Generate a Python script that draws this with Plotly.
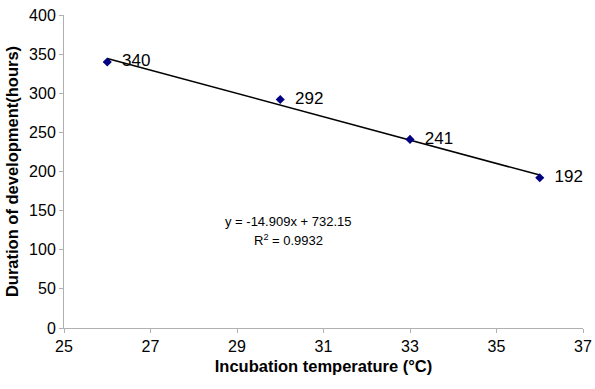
import plotly.graph_objects as go

temps = [26, 30, 33, 36]
hours = [340, 292, 241, 192]
labels = ["340", "292", "241", "192"]
slope = -14.909
intercept = 732.15
x_ticks = [25, 27, 29, 31, 33, 35, 37]
y_ticks = [0, 50, 100, 150, 200, 250, 300, 350, 400]

fit_x = [min(temps), max(temps)]
fit_y = [slope * v + intercept for v in fit_x]

fig = go.Figure()
fig.add_trace(go.Scatter(x=fit_x, y=fit_y, mode="lines",
                         line=dict(color="black", width=1.6), showlegend=False, hoverinfo="skip"))
fig.add_trace(go.Scatter(x=temps, y=hours, mode="markers+text",
                         text=["  " + t for t in labels], textposition="middle right",
                         textfont=dict(family="Liberation Sans, Arial", size=17, color="black"),
                         marker=dict(symbol="diamond", size=7, color="#000080"),
                         showlegend=False, cliponaxis=False))

fig.add_annotation(x=30.18, y=135.5, xref="x", yref="y", showarrow=False,
                   text="y = -14.909x + 732.15",
                   font=dict(family="Liberation Sans, Arial", size=13, color="black"))
fig.add_annotation(x=30.18, y=112.5, xref="x", yref="y", showarrow=False,
                   text="R<sup>2</sup> = 0.9932",
                   font=dict(family="Liberation Sans, Arial", size=13, color="black"))

axis_common = dict(showgrid=False, zeroline=False, showline=True, linecolor="#b0b0b0",
                   linewidth=1, ticks="outside", tickcolor="#b0b0b0", ticklen=4,
                   automargin=False,
                   tickfont=dict(family="Liberation Sans, Arial", size=16, color="black"))

fig.update_xaxes(range=[25, 37], tickvals=x_ticks, ticktext=[str(v) for v in x_ticks],
                 title=dict(text="<b>Incubation temperature (°C)</b>", standoff=6,
                            font=dict(family="Liberation Sans, Arial", size=16.5, color="black")),
                 **axis_common)
fig.update_yaxes(range=[0, 400], tickvals=y_ticks, ticktext=[str(v) for v in y_ticks],
                 title=dict(text="<b>Duration of development(hours)</b>", standoff=6,
                            font=dict(family="Liberation Sans, Arial", size=16.5, color="black")),
                 **axis_common)

fig.update_layout(width=595, height=389, margin=dict(l=64, r=12, t=15, b=61, autoexpand=False),
                  plot_bgcolor="white", paper_bgcolor="white")
fig.write_html("out.html", post_script="document.body.style.margin='0px';",
               config={"displayModeBar": False})
